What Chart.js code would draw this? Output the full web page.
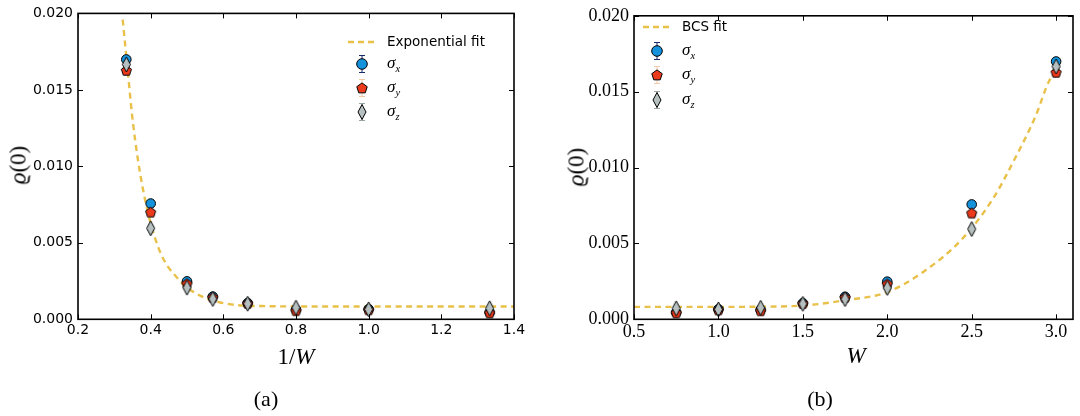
<!DOCTYPE html>
<html>
<head>
<meta charset="utf-8">
<script src="https://cdn.jsdelivr.net/npm/chart.js@4.4.1/dist/chart.umd.min.js"></script>
<style>
  body { margin: 0; width: 1080px; height: 416px; background: #fff; position: relative; overflow: hidden; }
  canvas { position: absolute; top: 0; }
  .t { position: absolute; white-space: nowrap; color: #000; line-height: 1; }
  .serif { font-family: 'Liberation Serif', 'DejaVu Serif', serif; }
  .sans { font-family: 'DejaVu Sans', sans-serif; }
  .mk { position: absolute; }
</style>
</head>
<body>
<canvas id="leftChart" width="540" height="416" style="left:0"></canvas>
<canvas id="rightChart" width="540" height="416" style="left:540px"></canvas>

<!-- axis titles, legends and captions as page text -->
<div class="t serif" style="left:18px;top:165px;font-size:23px;transform:translate(-50%,-50%) rotate(-90deg)"><i>ϱ</i>(0)</div>
<div class="t serif" style="left:576px;top:167px;font-size:23px;transform:translate(-50%,-50%) rotate(-90deg)"><i>ϱ</i>(0)</div>
<div class="t serif" style="left:296px;top:356px;font-size:23px;transform:translate(-50%,-50%)">1/<i>W</i></div>
<div class="t serif" style="left:856px;top:355px;font-size:23px;transform:translate(-50%,-50%)"><i>W</i></div>
<div class="t serif" style="left:266px;top:399px;font-size:22px;transform:translate(-50%,-50%)">(a)</div>
<div class="t serif" style="left:820px;top:399px;font-size:22px;transform:translate(-50%,-50%)">(b)</div>

<div id="legends"></div>

<script>
  // σ_x, σ_y, σ_z at each W
  var W_VALUES = [0.75, 1.0, 1.25, 1.5, 1.75, 2.0, 2.5, 3.0];
  var INV_W = [1.333, 1.0, 0.8, 0.667, 0.571, 0.5, 0.4, 0.333];
  var SIGMA_X = [0.00045, 0.00066, 0.00062, 0.00106, 0.00148, 0.00248, 0.00757, 0.01699];
  var SIGMA_Y = [0.00042, 0.00062, 0.00056, 0.00104, 0.00144, 0.00233, 0.00700, 0.01627];
  var SIGMA_Z = [0.00072, 0.00065, 0.00076, 0.00102, 0.00133, 0.00207, 0.00595, 0.01666];

  // fit curves
  var EXP_FIT_X = [0.323, 0.337, 0.351, 0.378, 0.421, 0.481, 0.536, 0.609, 0.719, 0.85, 1.0, 1.2, 1.4];
  var EXP_FIT_Y = [0.0196, 0.0162, 0.0129, 0.0086, 0.0047, 0.0025, 0.00155, 0.00102, 0.00086, 0.00084, 0.00084, 0.00084, 0.00084];
  var BCS_FIT_X = [0.5, 1.0, 1.25, 1.53, 1.746, 2.0, 2.215, 2.439, 2.625, 2.763, 2.88, 2.958, 2.995];
  var BCS_FIT_Y = [0.00082, 0.00082, 0.00083, 0.00093, 0.00125, 0.00179, 0.00314, 0.00524, 0.00793, 0.01074, 0.01343, 0.01569, 0.0162];

  var LEFT_X_TICKS = { min: 0.2, max: 1.4, step: 0.2 };
  var RIGHT_X_TICKS = { min: 0.5, max: 3.1, step: 0.5 };
  var Y_TICKS = { min: 0, max: 0.02, step: 0.005 };

  var BLUE = '#1592dc';
  var RED = '#ec3a1c';
  var GREY = '#b6c0c0';
  var GOLD = '#e8c04a';

  function pairs(xs, ys) {
    return xs.map(function (x, i) { return { x: x, y: ys[i] }; });
  }

  // marker glyphs not built into Chart.js
  function pentagonImage() {
    var c = document.createElement('canvas');
    c.width = 13; c.height = 13;
    var g = c.getContext('2d');
    g.beginPath();
    for (var i = 0; i < 5; i++) {
      var a = -Math.PI / 2 + i * 2 * Math.PI / 5;
      g.lineTo(6.5 + 5.3 * Math.cos(a), 6.9 + 5.3 * Math.sin(a));
    }
    g.closePath();
    g.fillStyle = RED; g.fill();
    g.strokeStyle = '#000'; g.lineWidth = 1; g.stroke();
    return c;
  }
  function diamondImage() {
    var c = document.createElement('canvas');
    c.width = 11; c.height = 17;
    var g = c.getContext('2d');
    g.beginPath();
    g.moveTo(5.5, 1); g.lineTo(9.5, 8.5); g.lineTo(5.5, 16); g.lineTo(1.5, 8.5);
    g.closePath();
    g.fillStyle = GREY; g.fill();
    g.strokeStyle = '#000'; g.lineWidth = 1; g.stroke();
    return c;
  }
  var PENTA = pentagonImage();
  var DIAM = diamondImage();

  var frameTicks = {
    id: 'frameTicks',
    afterDraw: function (chart) {
      var ctx = chart.ctx, a = chart.chartArea;
      var xs = chart.scales.x, ys = chart.scales.y;
      ctx.save();
      ctx.strokeStyle = '#000';
      ctx.lineWidth = 1;
      ctx.beginPath();
      xs.ticks.forEach(function (t) {
        var px = Math.round(xs.getPixelForValue(t.value)) + 0.5;
        ctx.moveTo(px, a.bottom); ctx.lineTo(px, a.bottom - 5);
        ctx.moveTo(px, a.top); ctx.lineTo(px, a.top + 5);
      });
      ys.ticks.forEach(function (t) {
        var py = Math.round(ys.getPixelForValue(t.value)) + 0.5;
        ctx.moveTo(a.left, py); ctx.lineTo(a.left + 5, py);
        ctx.moveTo(a.right, py); ctx.lineTo(a.right - 5, py);
      });
      ctx.stroke();
      ctx.lineWidth = 1.6;
      ctx.strokeRect(a.left, a.top, a.right - a.left, a.bottom - a.top);
      ctx.restore();
    }
  };

  function makeChart(canvas, xs, fitX, fitY, xTicks, opt) {
    var tickFont = opt.serif
      ? { family: "'Liberation Serif', serif", size: 18 }
      : { family: "'DejaVu Sans', sans-serif", size: 14 };
    return new Chart(canvas, {
      type: 'scatter',
      data: {
        datasets: [
          { data: pairs(xs, SIGMA_Z), pointStyle: DIAM, pointRadius: 6, order: 0 },
          { data: pairs(xs, SIGMA_Y), pointStyle: PENTA, pointRadius: 6, order: 1 },
          { data: pairs(xs, SIGMA_X), pointStyle: 'circle', pointRadius: 4.8, backgroundColor: BLUE,
            borderColor: '#000', borderWidth: 1, order: 2 },
          { data: pairs(fitX, fitY), showLine: true, pointRadius: 0, borderColor: GOLD, borderWidth: 2.4,
            borderDash: [6, 4.5], cubicInterpolationMode: 'monotone', fill: false, order: 3 }
        ]
      },
      options: {
        responsive: false,
        animation: false,
        layout: { padding: { left: 0, top: 10, right: opt.padRight, bottom: 46.7 } },
        plugins: { legend: { display: false }, tooltip: { enabled: false } },
        scales: {
          x: {
            type: 'linear', min: xTicks.min, max: xTicks.max,
            grid: { display: false, drawTicks: false }, border: { display: false },
            ticks: { stepSize: xTicks.step, includeBounds: false, color: '#000', font: tickFont,
              padding: opt.serif ? 2 : 3, maxRotation: 0,
              callback: function (v) { return v.toFixed(1); } },
            afterFit: function (s) { s.height = 50; }
          },
          y: {
            type: 'linear', min: Y_TICKS.min, max: Y_TICKS.max,
            grid: { display: false, drawTicks: false }, border: { display: false },
            ticks: { stepSize: Y_TICKS.step, color: '#000', font: tickFont, padding: 5,
              callback: function (v) { return v.toFixed(3); } },
            afterFit: function (s) { s.width = opt.axisWidth; }
          }
        }
      },
      plugins: [frameTicks]
    });
  }

  makeChart(document.getElementById('leftChart'), INV_W, EXP_FIT_X, EXP_FIT_Y, LEFT_X_TICKS,
    { serif: false, padRight: 26, axisWidth: 78 });
  makeChart(document.getElementById('rightChart'), W_VALUES, BCS_FIT_X, BCS_FIT_Y, RIGHT_X_TICKS,
    { serif: true, padRight: 2, axisWidth: 94 });

  // legends (HTML text, svg glyphs)
  function glyph(kind) {
    var bar = { x: '#1b2a6b', y: '#f4c9a8', z: '#9aa3a3' }[kind];
    var s = '<svg width="16" height="22" viewBox="-8 -11 16 22">' +
      '<g stroke="' + bar + '" stroke-width="1"><line x1="0" y1="-8.5" x2="0" y2="8.5"/>' +
      '<line x1="-3" y1="-8.5" x2="3" y2="-8.5"/><line x1="-3" y1="8.5" x2="3" y2="8.5"/></g>';
    if (kind === 'x') s += '<circle r="5.3" fill="' + BLUE + '" stroke="#000" stroke-width="1"/>';
    if (kind === 'y') {
      var p = [];
      for (var i = 0; i < 5; i++) {
        var a = -Math.PI / 2 + i * 2 * Math.PI / 5;
        p.push((5.5 * Math.cos(a)).toFixed(2) + ',' + (0.4 + 5.5 * Math.sin(a)).toFixed(2));
      }
      s += '<polygon points="' + p.join(' ') + '" fill="' + RED + '" stroke="#000" stroke-width="1"/>';
    }
    if (kind === 'z') s += '<polygon points="0,-7.5 4,0 0,7.5 -4,0" fill="' + GREY + '" stroke="#000" stroke-width="1"/>';
    return s + '</svg>';
  }

  function legend(x0, yLine, rowYs, label) {
    var html = '';
    html += '<svg class="mk" style="left:' + x0 + 'px;top:' + (yLine - 3) + 'px" width="26" height="6">' +
      '<line x1="0" y1="3" x2="26" y2="3" stroke="' + GOLD + '" stroke-width="2.4" stroke-dasharray="6 4"/></svg>';
    html += '<div class="t sans" style="left:' + (x0 + 39) + 'px;top:' + yLine + 'px;font-size:13.5px;transform:translateY(-50%)">' + label + '</div>';
    ['x', 'y', 'z'].forEach(function (k, i) {
      var cy = rowYs[i];
      html += '<div class="mk" style="left:' + (x0 + 6) + 'px;top:' + (cy - 11) + 'px">' + glyph(k) + '</div>';
      html += '<div class="t serif" style="left:' + (x0 + 39) + 'px;top:' + cy + 'px;font-size:17px;transform:translateY(-50%)"><i>σ</i><sub style="font-size:10.5px"><i>' + k + '</i></sub></div>';
    });
    return html;
  }

  document.getElementById('legends').innerHTML =
    legend(348, 42, [64, 88, 112], 'Exponential fit') +
    legend(643, 27, [51, 75, 100], 'BCS fit');
</script>
</body>
</html>
